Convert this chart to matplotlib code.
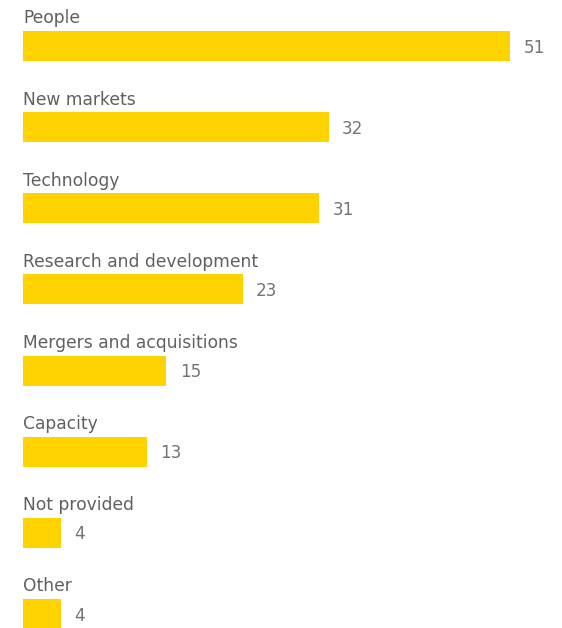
import matplotlib
matplotlib.use("Agg")
import matplotlib.pyplot as plt

categories = ["People", "New markets", "Technology", "Research and development",
              "Mergers and acquisitions", "Capacity", "Not provided", "Other"]
values = [51, 32, 31, 23, 15, 13, 4, 4]

plt.rcParams['font.family'] = ['DejaVu Sans']

fig = plt.figure(figsize=(5.62, 6.28), dpi=100)
ax = fig.add_axes([0, 0, 1, 1])

ypos = list(range(len(categories)))
ax.barh(ypos, values, height=0.37, color="#FFD200", left=0)

for y, cat, v in zip(ypos, categories, values):
    ax.text(0, y - 0.34, cat, ha="left", va="center", fontsize=12.3, color="#606060")
    ax.text(v + 1.4, y + 0.02, str(v), ha="left", va="center", fontsize=12.2, color="#747474")

ax.set_xlim(-2.41, 56.44)
ax.set_ylim(7.173, -0.567)
ax.axis("off")

fig.savefig("out.png", dpi=100)
